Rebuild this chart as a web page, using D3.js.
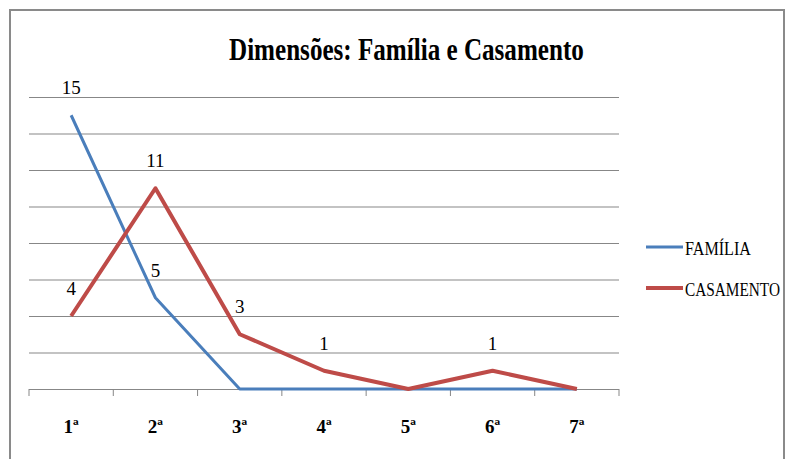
<!DOCTYPE html>
<meta charset="utf-8">
<script src="https://cdn.jsdelivr.net/npm/d3@7"></script>
<style>
body { margin: 0; background: #fff; }
.grid line { stroke: #878787; stroke-width: 1px; }
.grid path { display: none; }
</style>
<body>
<script>

var categories = ["1ª", "2ª", "3ª", "4ª", "5ª", "6ª", "7ª"];
var familia = [15, 5, 0, 0, 0, 0, 0];
var casamento = [4, 11, 3, 1, 0, 1, 0];
// which points carry a value label
var familiaLabels = [true, true, false, false, false, false, false];
var casamentoLabels = [true, true, true, true, false, true, false];
var yTicks = [0, 2, 4, 6, 8, 10, 12, 14, 16];

var width = 791,
    height = 459;
var serif = "'Liberation Serif', 'Times New Roman', serif";

var svg = d3.select("body").append("svg")
    .attr("width", width)
    .attr("height", height);

// chart border
svg.append("rect")
    .attr("x", 10).attr("y", 10)
    .attr("width", 774).attr("height", 470)
    .attr("fill", "#fff")
    .attr("stroke", "#8a8a8a")
    .attr("stroke-width", 2);

var x = d3.scaleBand()
    .domain(categories)
    .range([29, 619]);

var y = d3.scaleLinear()
    .domain([0, 16])
    .range([389, 97]);

function cx(d) { return x(d) + x.bandwidth() / 2; }

// squeeze a text horizontally to a given width (the reference font is condensed)
function squeeze(sel, x0, y0, w) {
  var n = sel.node().getComputedTextLength();
  sel.attr("transform", "translate(" + x0 + "," + y0 + ") scale(" + (w / n) + ",1)");
}

// gridlines
svg.append("g")
    .attr("class", "grid")
    .attr("transform", "translate(29,0)")
    .call(d3.axisLeft(y).tickValues(yTicks).tickSize(-590).tickFormat(""));

// category tick marks at band boundaries
var bounds = d3.range(categories.length + 1).map(function(i) {
  return x.range()[0] + i * x.step();
});
svg.append("g").selectAll("line")
    .data(bounds)
    .enter().append("line")
    .attr("x1", function(d) { return d; })
    .attr("x2", function(d) { return d; })
    .attr("y1", y(0))
    .attr("y2", y(0) + 7)
    .attr("stroke", "#878787");

// category labels
svg.append("g").selectAll("text")
    .data(categories)
    .enter().append("text")
    .attr("x", function(d) { return cx(d); })
    .attr("y", 433)
    .attr("text-anchor", "middle")
    .attr("font-family", serif)
    .attr("font-size", 19)
    .attr("font-weight", "bold")
    .text(function(d) { return d; });

var series = [
  {name: "FAMÍLIA", values: familia, labels: familiaLabels, color: "#4a7ebb", w: 3, legendY: 247, textLen: 66},
  {name: "CASAMENTO", values: casamento, labels: casamentoLabels, color: "#be4b48", w: 4, legendY: 288, textLen: 95}
];

var line = d3.line()
    .x(function(d, i) { return cx(categories[i]); })
    .y(function(d) { return y(d); });

series.forEach(function(s) {
  svg.append("path")
      .datum(s.values)
      .attr("d", line)
      .attr("fill", "none")
      .attr("stroke", s.color)
      .attr("stroke-width", s.w)
      .attr("stroke-linejoin", "round");
});

// data labels
series.forEach(function(s) {
  var pts = s.values.map(function(v, i) { return {cat: categories[i], value: v, show: s.labels[i]}; })
      .filter(function(p) { return p.show; });
  svg.append("g").selectAll("text")
      .data(pts)
      .enter().append("text")
      .attr("x", function(p) { return cx(p.cat); })
      .attr("y", function(p) { return y(p.value) - 21; })
      .attr("text-anchor", "middle")
      .attr("font-family", serif)
      .attr("font-size", 19)
      .text(function(p) { return p.value; });
});

// legend
series.forEach(function(s) {
  svg.append("line")
      .attr("x1", 646).attr("x2", 683)
      .attr("y1", s.legendY).attr("y2", s.legendY)
      .attr("stroke", s.color)
      .attr("stroke-width", s.w);
  var t = svg.append("text")
      .attr("font-family", serif)
      .attr("font-size", 19)
      .text(s.name);
  squeeze(t, 685, s.legendY + 8, s.textLen);
});

// title
var title = svg.append("text")
    .attr("font-family", serif)
    .attr("font-size", 32)
    .attr("font-weight", "bold")
    .text("Dimensões: Família e Casamento");
squeeze(title, 229, 60, 355);

</script>
</body>
